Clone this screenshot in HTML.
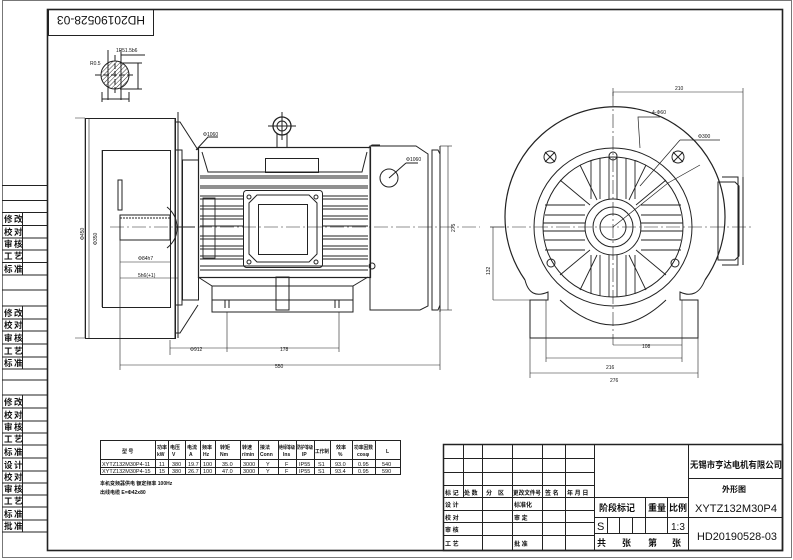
<!DOCTYPE html>
<html><head><meta charset="utf-8"><style>
html,body{margin:0;padding:0;background:#fff;}
svg{display:block;}
text{font-family:"Liberation Sans","Noto Sans CJK SC",sans-serif;fill:#111;}
.cn{font-family:"Liberation Sans","Noto Sans CJK SC",sans-serif;font-weight:bold;}
</style></head><body>
<svg width="793" height="560" viewBox="0 0 793 560" xmlns="http://www.w3.org/2000/svg">
<defs>
<pattern id="h" width="3" height="3" patternUnits="userSpaceOnUse" patternTransform="rotate(45)"><line x1="0" y1="0" x2="0" y2="3" stroke="#333" stroke-width="1"/></pattern>
</defs>
<g fill="none" stroke="#222" stroke-width="1">
<rect x="2.5" y="0.5" width="789" height="557" stroke="#777"/>
<rect x="47.5" y="9.5" width="735" height="541" stroke-width="1.6"/>
<line x1="2" y1="185.5" x2="47" y2="185.5"/>
<rect x="48.5" y="9.5" width="105" height="26"/>
<line x1="2" y1="200.5" x2="47" y2="200.5"/>
<line x1="2" y1="212.5" x2="47" y2="212.5"/>
<line x1="2" y1="225.5" x2="47" y2="225.5"/>
<line x1="2" y1="238" x2="47" y2="238"/>
<line x1="2" y1="250" x2="47" y2="250"/>
<line x1="2" y1="262.5" x2="47" y2="262.5"/>
<line x1="2" y1="275" x2="47" y2="275"/>
<line x1="2" y1="290" x2="47" y2="290"/>
<line x1="2" y1="306" x2="47" y2="306"/>
<line x1="2" y1="319" x2="47" y2="319"/>
<line x1="2" y1="331" x2="47" y2="331"/>
<line x1="2" y1="344" x2="47" y2="344"/>
<line x1="2" y1="357" x2="47" y2="357"/>
<line x1="2" y1="369" x2="47" y2="369"/>
<line x1="2" y1="380" x2="47" y2="380"/>
<line x1="2" y1="395" x2="47" y2="395"/>
<line x1="2" y1="408" x2="47" y2="408"/>
<line x1="2" y1="421" x2="47" y2="421"/>
<line x1="2" y1="433" x2="47" y2="433"/>
<line x1="2" y1="445" x2="47" y2="445"/>
<line x1="2" y1="458" x2="47" y2="458"/>
<line x1="2" y1="471" x2="47" y2="471"/>
<line x1="2" y1="483" x2="47" y2="483"/>
<line x1="2" y1="495" x2="47" y2="495"/>
<line x1="2" y1="507" x2="47" y2="507"/>
<line x1="2" y1="520" x2="47" y2="520"/>
<line x1="2" y1="532" x2="47" y2="532"/>
<line x1="22.5" y1="212" x2="22.5" y2="275"/>
<line x1="22.5" y1="306" x2="22.5" y2="369"/>
<line x1="22.5" y1="395" x2="22.5" y2="532"/>

<rect x="443.5" y="444.5" width="339" height="106" stroke-width="1.5"/>
<line x1="443" y1="458.5" x2="594" y2="458.5"/>
<line x1="443" y1="472.5" x2="594" y2="472.5"/>
<line x1="443" y1="485.5" x2="594" y2="485.5"/>
<line x1="443" y1="497.5" x2="688" y2="497.5"/>
<line x1="443" y1="510.5" x2="594" y2="510.5"/>
<line x1="443" y1="522.5" x2="594" y2="522.5"/>
<line x1="443" y1="535.5" x2="594" y2="535.5"/>
<line x1="463.5" y1="444" x2="463.5" y2="497"/>
<line x1="482.5" y1="444" x2="482.5" y2="550"/>
<line x1="512.5" y1="444" x2="512.5" y2="550"/>
<line x1="542.5" y1="444" x2="542.5" y2="550"/>
<line x1="565.5" y1="444" x2="565.5" y2="550"/>
<line x1="594.5" y1="444" x2="594.5" y2="550"/>
<line x1="688.5" y1="444" x2="688.5" y2="550"/>
<line x1="594" y1="517.5" x2="783" y2="517.5"/>
<line x1="594" y1="533.5" x2="688" y2="533.5"/>
<line x1="645.5" y1="497" x2="645.5" y2="533"/>
<line x1="667.5" y1="497" x2="667.5" y2="533"/>
<line x1="607.5" y1="517" x2="607.5" y2="533"/>
<line x1="619.5" y1="517" x2="619.5" y2="533"/>
<line x1="632.5" y1="517" x2="632.5" y2="533"/>
<line x1="688" y1="478.5" x2="783" y2="478.5"/>

<rect x="100.5" y="440.5" width="300" height="34"/>
<line x1="100" y1="459.5" x2="400" y2="459.5"/>
<line x1="100" y1="467.5" x2="400" y2="467.5"/>
<g>
<line x1="155.5" y1="440" x2="155.5" y2="475"/><line x1="168.5" y1="440" x2="168.5" y2="475"/>
<line x1="185.5" y1="440" x2="185.5" y2="475"/><line x1="200.5" y1="440" x2="200.5" y2="475"/>
<line x1="215.5" y1="440" x2="215.5" y2="475"/><line x1="240.5" y1="440" x2="240.5" y2="475"/>
<line x1="258.5" y1="440" x2="258.5" y2="475"/><line x1="278.5" y1="440" x2="278.5" y2="475"/>
<line x1="296.5" y1="440" x2="296.5" y2="475"/><line x1="314.5" y1="440" x2="314.5" y2="475"/>
<line x1="330.5" y1="440" x2="330.5" y2="475"/><line x1="352.5" y1="440" x2="352.5" y2="475"/>
<line x1="375.5" y1="440" x2="375.5" y2="475"/>
</g>

<circle cx="115" cy="75" r="14" fill="url(#h)"/>
<line x1="108" y1="50" x2="108" y2="100"/><line x1="121" y1="50" x2="121" y2="100"/>
<line x1="115" y1="55" x2="115" y2="95" stroke-dasharray="6 2"/>
<line x1="95" y1="75" x2="135" y2="75" stroke-dasharray="6 2"/>
<line x1="121" y1="55" x2="145" y2="55"/>
<line x1="120" y1="63" x2="142" y2="63"/><line x1="120" y1="89" x2="142" y2="89"/>
<line x1="138" y1="63" x2="138" y2="89"/>
<line x1="102" y1="92" x2="102" y2="102"/><line x1="129" y1="92" x2="129" y2="102"/>
<line x1="102" y1="99" x2="129" y2="99"/>

<rect x="85.5" y="118.5" width="90" height="220"/>
<rect x="102.5" y="150.5" width="68" height="157"/>
<path d="M175 118 L175 338 M175 150 L182 150 L182 305 L175 305 M175 122 H180 L198 150 M175 333 H180 L198 305"/>
<rect x="182.5" y="160" width="16" height="140"/>
<rect x="118" y="180" width="4" height="30" />
<path d="M120 215 H170 V240 H120 Z"/>
<line x1="120" y1="218" x2="170" y2="218" stroke-dasharray="2 1"/>
<path d="M167 207 Q177 215 177 228 Q177 240 167 248"/>
<line x1="175" y1="227" x2="195" y2="227"/>
<line x1="110" y1="227" x2="480" y2="227" stroke-dasharray="14 3 2 3" stroke-width="0.6"/>
<line x1="178" y1="112" x2="178" y2="338"/>
<rect x="198.5" y="147.5" width="172" height="130" stroke-width="1.2"/>
<path d="M202 152 L208 172 H362 L367 152"/>
<rect x="265.5" y="158.5" width="53" height="14"/>
<g stroke-width="0.9">
<line x1="200" y1="176" x2="368" y2="176"/><line x1="200" y1="178" x2="368" y2="178"/>
<line x1="200" y1="186" x2="368" y2="186"/><line x1="200" y1="188" x2="368" y2="188"/>
<line x1="200" y1="196" x2="243" y2="196"/><line x1="322" y1="196" x2="368" y2="196"/>
<line x1="200" y1="199" x2="243" y2="199"/><line x1="322" y1="199" x2="368" y2="199"/>
<line x1="200" y1="206" x2="243" y2="206"/><line x1="322" y1="206" x2="368" y2="206"/>
<line x1="200" y1="209" x2="243" y2="209"/><line x1="322" y1="209" x2="368" y2="209"/>
<line x1="200" y1="216" x2="243" y2="216"/><line x1="322" y1="216" x2="368" y2="216"/>
<line x1="200" y1="219" x2="243" y2="219"/><line x1="322" y1="219" x2="368" y2="219"/>
<line x1="200" y1="226" x2="243" y2="226"/><line x1="322" y1="226" x2="368" y2="226"/>
<line x1="200" y1="236" x2="243" y2="236"/><line x1="322" y1="236" x2="368" y2="236"/>
<line x1="200" y1="239" x2="243" y2="239"/><line x1="322" y1="239" x2="368" y2="239"/>
<line x1="200" y1="246" x2="243" y2="246"/><line x1="322" y1="246" x2="368" y2="246"/>
<line x1="200" y1="249" x2="243" y2="249"/><line x1="322" y1="249" x2="368" y2="249"/>
<line x1="200" y1="256" x2="243" y2="256"/><line x1="322" y1="256" x2="368" y2="256"/>
<line x1="200" y1="259" x2="243" y2="259"/><line x1="322" y1="259" x2="368" y2="259"/>
<line x1="200" y1="266" x2="368" y2="266"/>
<line x1="200" y1="270" x2="368" y2="270"/>
<rect x="203" y="198" width="12" height="60"/>
</g>
<rect x="243.5" y="190.5" width="79" height="77" rx="3"/>
<path d="M257 195 H309 L317 203 V254 L309 262 H257 L249 254 V203 Z"/>
<rect x="258.5" y="204.5" width="49" height="50"/>
<circle cx="249" cy="197" r="2"/><circle cx="316" cy="197" r="2"/><circle cx="249" cy="262" r="2"/><circle cx="316" cy="262" r="2"/>
<circle cx="282" cy="126" r="9" stroke-width="1.3"/><circle cx="282" cy="126" r="5"/>
<path d="M277 134 V147 M287 134 V147"/>
<line x1="282" y1="112" x2="282" y2="140"/><line x1="268" y1="126" x2="296" y2="126"/>
<path d="M198 277 L212 286 V312 H353 V286 L368 277"/>
<line x1="212" y1="286" x2="353" y2="286"/><line x1="212" y1="300" x2="353" y2="300"/>
<rect x="276" y="277" width="13" height="33"/>
<path d="M225 300 V308 M229 300 V308 M335 300 V308 M339 300 V308"/>
<path d="M370 146 H416 L428 154 V306 L420 310 H370 Z"/>
<path d="M432 150 H438 L440 154 V305 L438 310 H432 Z"/>
<line x1="440" y1="146" x2="440" y2="312"/>
<circle cx="389" cy="178" r="9"/>
<line x1="389" y1="178" x2="406" y2="163"/><line x1="406" y1="163" x2="418" y2="163"/>
<circle cx="372" cy="266" r="3"/>
<path d="M196 150 L208 137 H218 M368 148 L372 145 H380"/>
<path d="M85 118 V338 M75 118 H85 M75 338 H85" stroke-width="0.6"/>
<line x1="89" y1="118" x2="89" y2="338" stroke-width="0.6"/>
<line x1="102" y1="150" x2="102" y2="307" stroke-width="0.6"/>
<path d="M120 240 V370 M440 312 V370 M120 365 H440" stroke-width="0.6"/>
<path d="M170 340 V355 M227 312 V352 M339 312 V352 M170 348 H339" stroke-width="0.6"/>
<path d="M120 262 H170 M120 278 H178" stroke-width="0.6"/>
<line x1="448" y1="146" x2="448" y2="310" stroke-width="0.6"/>
<line x1="440" y1="146" x2="452" y2="146" stroke-width="0.6"/><line x1="440" y1="310" x2="452" y2="310" stroke-width="0.6"/>

<path d="M 525 280 A 110 110 0 1 1 705 280" stroke-width="1.2"/>
<path d="M525 280 Q530 300 548 292 L548 300 L530 300 V338 H698 V300 H680 L680 292 Q697 300 705 280"/>
<path d="M560 300 Q613 350 666 300"/>
<circle cx="613" cy="227" r="79"/>
<circle cx="613" cy="227" r="70"/>
<circle cx="613" cy="227" r="28"/>
<circle cx="613" cy="227" r="20"/>
<circle cx="613" cy="227" r="13"/>
<g stroke-width="0.9">
<line x1="545" y1="205" x2="585" y2="205"/><line x1="641" y1="205" x2="681" y2="205"/>
<line x1="545" y1="215" x2="585" y2="215"/><line x1="641" y1="215" x2="681" y2="215"/>
<line x1="543" y1="223" x2="585" y2="223"/><line x1="641" y1="223" x2="683" y2="223"/>
<line x1="543" y1="231" x2="585" y2="231"/><line x1="641" y1="231" x2="683" y2="231"/>
<line x1="545" y1="240" x2="585" y2="240"/><line x1="641" y1="240" x2="681" y2="240"/>
<line x1="545" y1="250" x2="585" y2="250"/><line x1="641" y1="250" x2="681" y2="250"/>
<line x1="591" y1="160" x2="591" y2="199"/><line x1="600" y1="158" x2="600" y2="199"/>
<line x1="609" y1="157" x2="609" y2="199"/><line x1="617" y1="157" x2="617" y2="199"/>
<line x1="626" y1="158" x2="626" y2="199"/><line x1="635" y1="160" x2="635" y2="199"/>
<line x1="591" y1="255" x2="591" y2="294"/><line x1="600" y1="255" x2="600" y2="296"/>
<line x1="609" y1="255" x2="609" y2="297"/><line x1="617" y1="255" x2="617" y2="297"/>
<line x1="626" y1="255" x2="626" y2="296"/><line x1="635" y1="255" x2="635" y2="294"/>
<line x1="560" y1="180" x2="590" y2="205"/><line x1="666" y1="180" x2="636" y2="205"/>
<line x1="560" y1="275" x2="590" y2="250"/><line x1="666" y1="275" x2="636" y2="250"/>
<line x1="580" y1="165" x2="597" y2="200"/><line x1="646" y1="165" x2="629" y2="200"/>
<line x1="580" y1="290" x2="597" y2="255"/><line x1="646" y1="290" x2="629" y2="255"/>
</g>
<circle cx="613" cy="156" r="4"/><circle cx="551" cy="263" r="4"/><circle cx="675" cy="263" r="4"/>
<path d="M545 152 l10 10 m0 -10 l-10 10 M673 152 l10 10 m0 -10 l-10 10"/>
<circle cx="550" cy="157" r="6"/><circle cx="678" cy="157" r="6"/>
<path d="M718 182 H735 L739 186 V256 L735 260 H718 Z"/><path d="M722 177 H738 V265 H722"/>
<line x1="743" y1="177" x2="743" y2="265"/>
<line x1="613" y1="92" x2="613" y2="345" stroke-dasharray="14 3 2 3" stroke-width="0.6"/>
<line x1="490" y1="227" x2="752" y2="227" stroke-dasharray="14 3 2 3" stroke-width="0.6"/>
<path d="M613 92 H743 V230 M613 88 V96 M743 88 V96" stroke-width="0.6"/>
<path d="M530 338 V378 M698 338 V378 M530 373 H698 M546 300 V362 M682 300 V362 M546 358 H682 M613 345 H682" stroke-width="0.6"/>
<path d="M493 227 V300 M493 300 H530 M490 227 H505" stroke-width="0.6"/>
<path d="M613 227 L668 183 L700 165 M640 186 L680 140 M640 148 L638 117 H660 M680 140 H720" stroke-width="0.7"/>
</g>

<g font-size="8.5" font-weight="bold">
<text x="4" y="222">修</text><text x="14" y="222">改</text>
<text x="4" y="235">校</text><text x="14" y="235">对</text>
<text x="4" y="247">审</text><text x="14" y="247">核</text>
<text x="4" y="259">工</text><text x="14" y="259">艺</text>
<text x="4" y="272">标</text><text x="14" y="272">准</text>
<text x="4" y="316">修</text><text x="14" y="316">改</text>
<text x="4" y="328">校</text><text x="14" y="328">对</text>
<text x="4" y="341">审</text><text x="14" y="341">核</text>
<text x="4" y="354">工</text><text x="14" y="354">艺</text>
<text x="4" y="366">标</text><text x="14" y="366">准</text>
<text x="4" y="405">修</text><text x="14" y="405">改</text>
<text x="4" y="418">校</text><text x="14" y="418">对</text>
<text x="4" y="430">审</text><text x="14" y="430">核</text>
<text x="4" y="442">工</text><text x="14" y="442">艺</text>
<text x="4" y="455">标</text><text x="14" y="455">准</text>
<text x="4" y="468">设</text><text x="14" y="468">计</text>
<text x="4" y="480">校</text><text x="14" y="480">对</text>
<text x="4" y="492">审</text><text x="14" y="492">核</text>
<text x="4" y="504">工</text><text x="14" y="504">艺</text>
<text x="4" y="517">标</text><text x="14" y="517">准</text>
<text x="4" y="529">批</text><text x="14" y="529">准</text>
</g>
<text x="101" y="28" font-size="12" text-anchor="middle" transform="rotate(180 101 22)" font-family="Liberation Mono">HD20190528-03</text>

<g font-size="6" class="cn">
<text x="445" y="495">标 记</text><text x="464" y="495">处 数</text><text x="486" y="495">分　区</text><text x="513" y="495" textLength="28" lengthAdjust="spacingAndGlyphs">更改文件号</text><text x="545" y="495">签 名</text><text x="567" y="495">年 月 日</text>
<text x="445" y="507">设 计</text><text x="445" y="520">校 对</text><text x="445" y="532">审 核</text><text x="445" y="546">工 艺</text>
<text x="514" y="507">标准化</text><text x="514" y="520">审 定</text><text x="514" y="546">批 准</text>
</g>
<g class="cn">
<text x="599" y="511" font-size="9">阶段标记</text><text x="648" y="511" font-size="9">重量</text><text x="669" y="511" font-size="9">比例</text>
<text x="597" y="546" font-size="9">共</text><text x="622" y="546" font-size="9">张</text><text x="648" y="546" font-size="9">第</text><text x="672" y="546" font-size="9">张</text>
<text x="690" y="468" font-size="9" textLength="92" lengthAdjust="spacingAndGlyphs">无锡市亨达电机有限公司</text>
<text x="722" y="492" font-size="8">外形图</text>
</g>
<text x="597" y="530" font-size="11">S</text>
<text x="671" y="530" font-size="10">1:3</text>
<text x="695" y="512" font-size="11" font-family="Liberation Mono" textLength="82" lengthAdjust="spacingAndGlyphs">XYTZ132M30P4</text>
<text x="697" y="540" font-size="11" font-family="Liberation Mono" textLength="80" lengthAdjust="spacingAndGlyphs">HD20190528-03</text>

<g font-size="5" class="cn">
<text x="122" y="453">型 号</text><text x="157" y="449">功率</text><text x="157" y="456">kW</text>
<text x="170" y="449">电压</text><text x="172" y="456">V</text><text x="187" y="449">电流</text><text x="189" y="456">A</text>
<text x="202" y="449">频率</text><text x="203" y="456">Hz</text><text x="220" y="449">转矩</text><text x="220" y="456">Nm</text>
<text x="242" y="449">转速</text><text x="242" y="456">r/min</text><text x="260" y="449">接法</text><text x="260" y="456">Conn</text>
<text x="279" y="449" textLength="16" lengthAdjust="spacingAndGlyphs">绝缘等级</text><text x="283" y="456">Ins</text><text x="297" y="449" textLength="16" lengthAdjust="spacingAndGlyphs">防护等级</text><text x="302" y="456">IP</text>
<text x="315" y="453" textLength="14" lengthAdjust="spacingAndGlyphs">工作制</text><text x="336" y="449">效率</text><text x="338" y="456">%</text><text x="354" y="449" textLength="19" lengthAdjust="spacingAndGlyphs">功率因数</text><text x="357" y="456">cosφ</text><text x="386" y="453">L</text>
</g>
<g font-size="5.5">
<text x="102" y="466">XYTZ132M30P4-11</text><text x="159" y="466">11</text><text x="172" y="466">380</text><text x="188" y="466">19.7</text><text x="203" y="466">100</text><text x="222" y="466">35.0</text><text x="243" y="466">3000</text><text x="266" y="466">Y</text><text x="285" y="466">F</text><text x="299" y="466">IP55</text><text x="318" y="466">S1</text><text x="335" y="466">93.0</text><text x="358" y="466">0.95</text><text x="382" y="466">540</text>
<text x="102" y="473">XYTZ132M30P4-15</text><text x="159" y="473">15</text><text x="172" y="473">380</text><text x="188" y="473">26.7</text><text x="203" y="473">100</text><text x="222" y="473">47.0</text><text x="243" y="473">3000</text><text x="266" y="473">Y</text><text x="285" y="473">F</text><text x="299" y="473">IP55</text><text x="318" y="473">S1</text><text x="335" y="473">93.4</text><text x="358" y="473">0.95</text><text x="382" y="473">590</text>
</g>
<g font-size="5" class="cn">
<text x="100" y="485">本机变频器供电 额定频率 100Hz</text>
<text x="100" y="494">出线电缆 E=Φ42x80</text>
</g>
<g font-size="5">
<text x="275" y="368">550</text><text x="280" y="351">178</text><text x="190" y="351">Φ912</text>
<text x="138" y="260">Φ84h7</text><text x="138" y="277">5h6(+1)</text>
<text x="606" y="369">216</text><text x="610" y="382">276</text><text x="642" y="348">108</text><text x="675" y="90">210</text>
<text x="652" y="114">4-Φ60</text><text x="698" y="138">Φ300</text><text x="116" y="52">1P51.5b6</text><text x="90" y="65">R0.5</text>
<text x="406" y="161">Φ1060</text><text x="203" y="136">Φ1060</text>
</g>
<text x="0" y="0" font-size="5" transform="translate(97 245) rotate(-90)">Φ350</text>
<text x="0" y="0" font-size="5" transform="translate(84 240) rotate(-90)">Φ450</text>
<text x="0" y="0" font-size="5" transform="translate(490 275) rotate(-90)">132</text>
<text x="0" y="0" font-size="5" transform="translate(455 232) rotate(-90)">275</text>
</svg>
</body></html>
